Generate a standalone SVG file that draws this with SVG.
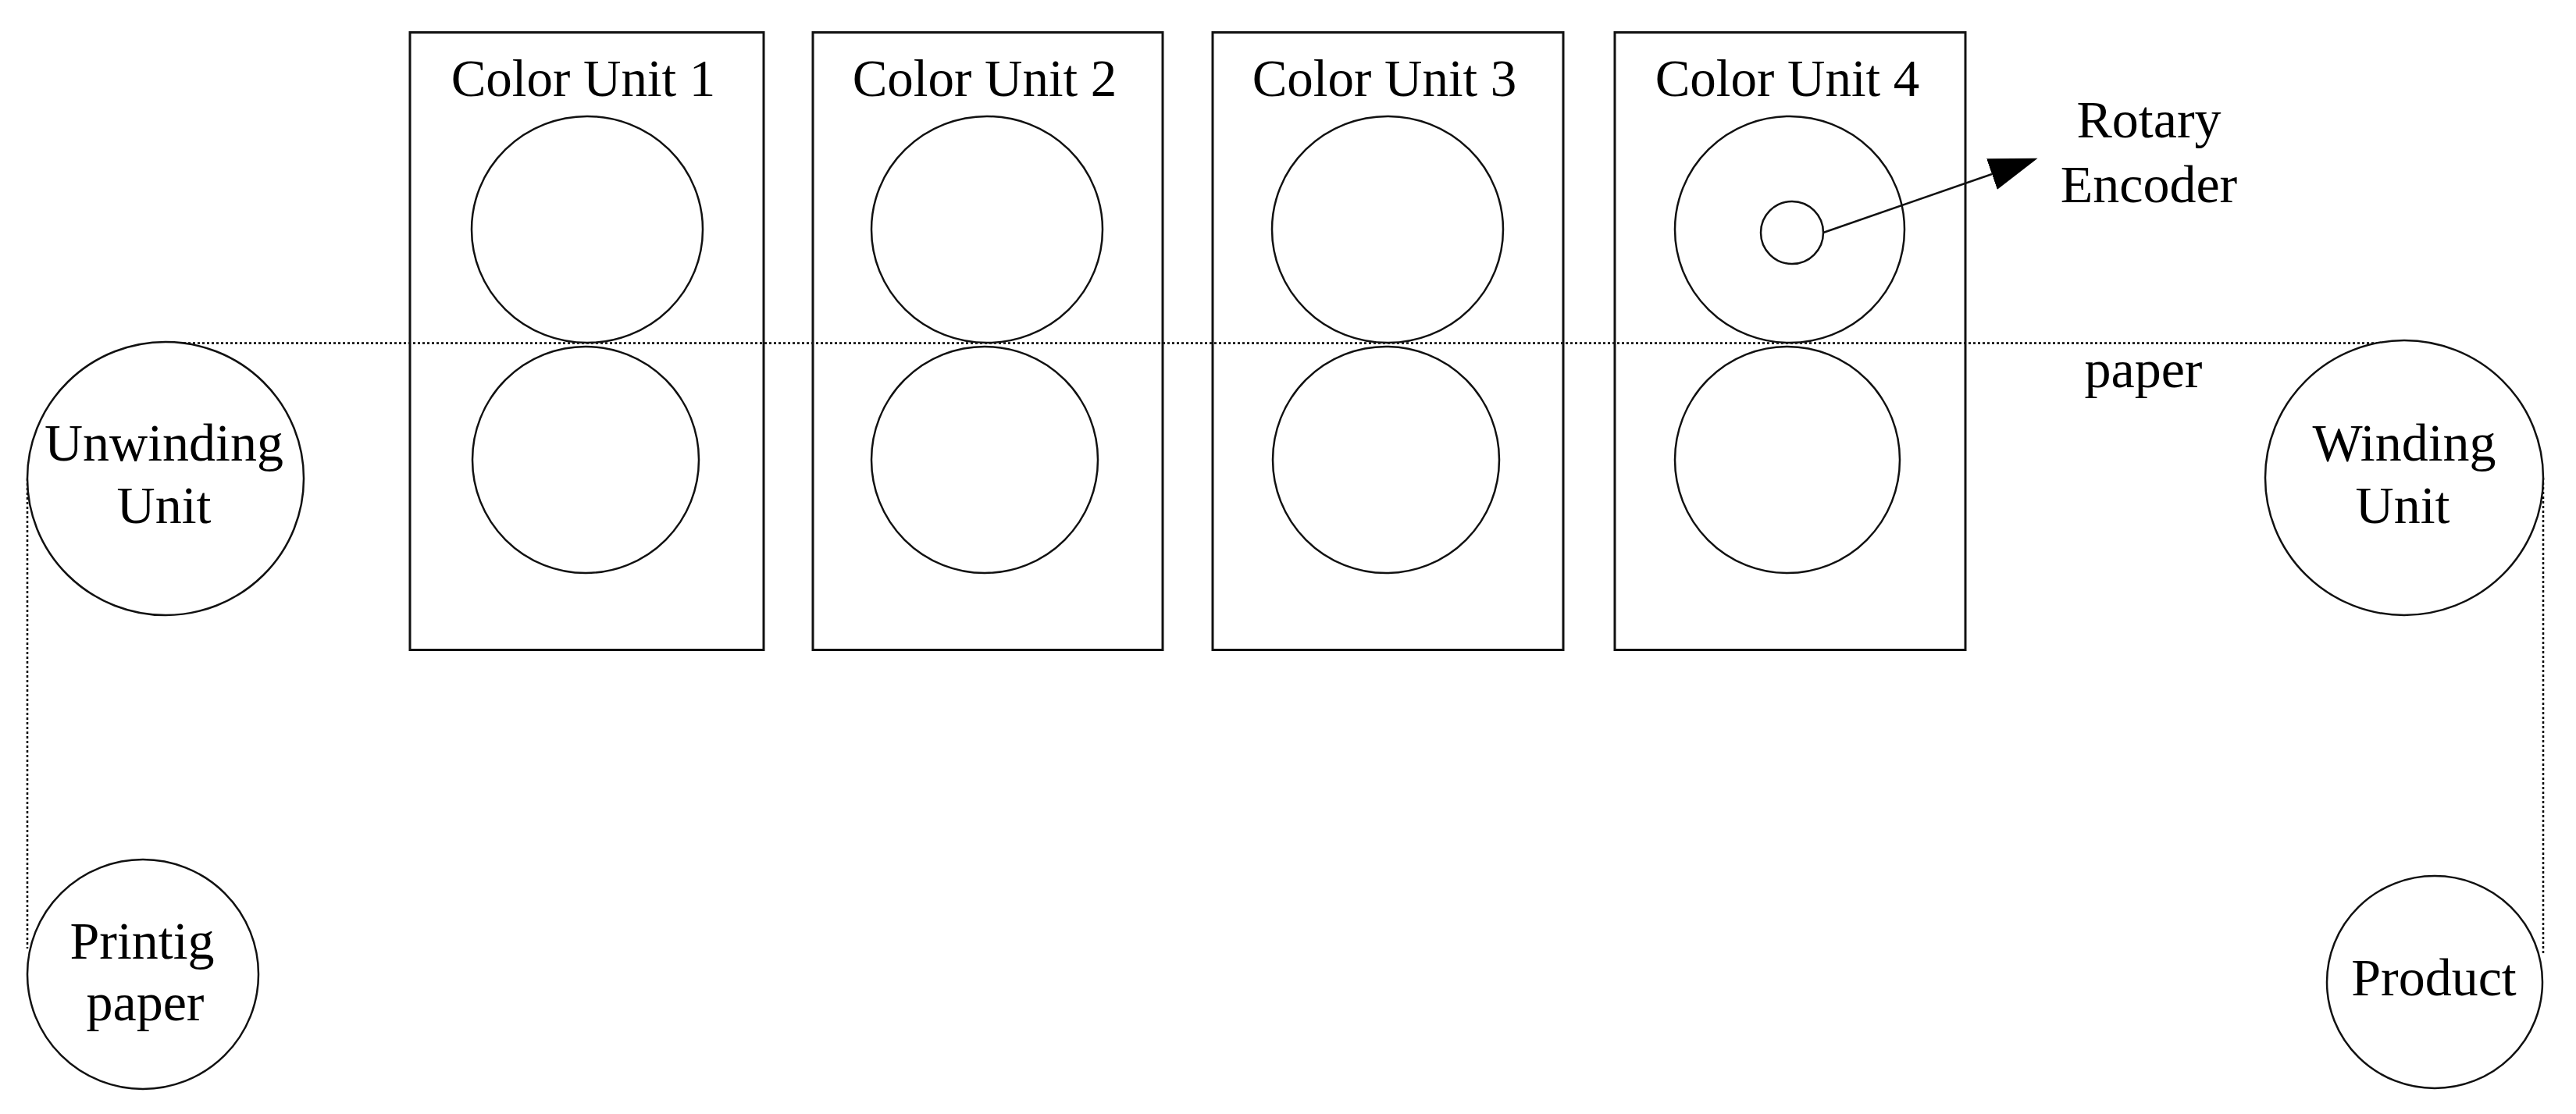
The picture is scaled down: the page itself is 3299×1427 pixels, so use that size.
<svg xmlns="http://www.w3.org/2000/svg" width="3299" height="1427" viewBox="0 0 3299 1427">
<style>
.bg{fill:#fff}
.box{fill:none;stroke:#111;stroke-width:3}
.roll{fill:none;stroke:#111;stroke-width:2.5}
.node{fill:#fff;stroke:#111;stroke-width:2.5}
.web{fill:none;stroke:#000;stroke-width:2.5;stroke-dasharray:3 3}
.arrow{fill:none;stroke:#111;stroke-width:2.5}
text{font-family:"Liberation Serif","Times New Roman",serif;font-size:68px;fill:#000;text-anchor:middle}
.title{font-size:67px}
</style>
<defs>
<marker id="ah" markerUnits="userSpaceOnUse" viewBox="0 0 62 42" refX="0" refY="21" markerWidth="62" markerHeight="42" orient="auto">
<path d="M0,0 L62,21 L0,42 Z" fill="#000"/>
</marker>
</defs>
<rect class="bg" x="0" y="0" width="3299" height="1427"/>

<g id="connectors">
<line class="web" x1="211" y1="439.5" x2="3079" y2="439.5"/>
<line class="web" x1="35" y1="613" x2="35" y2="1215"/>
<line class="web" x1="3257" y1="612" x2="3257" y2="1222"/>
<line class="arrow" x1="2335" y1="298" x2="2551" y2="223" marker-end="url(#ah)"/>
</g>

<g id="color-unit-1">
<rect class="box" x="525" y="41.5" width="453" height="791"/>
<text class="title" x="747" y="123">Color Unit 1</text>
<ellipse class="roll" cx="752" cy="294" rx="148" ry="145"/>
<ellipse class="roll" cx="750" cy="589" rx="145" ry="145"/>
</g>

<g id="color-unit-2">
<rect class="box" x="1041" y="41.5" width="448" height="791"/>
<text class="title" x="1261" y="123">Color Unit 2</text>
<ellipse class="roll" cx="1264" cy="294" rx="148" ry="145"/>
<ellipse class="roll" cx="1261" cy="589" rx="145" ry="145"/>
</g>

<g id="color-unit-3">
<rect class="box" x="1553" y="41.5" width="449" height="791"/>
<text class="title" x="1773" y="123">Color Unit 3</text>
<ellipse class="roll" cx="1777" cy="294" rx="148" ry="145"/>
<ellipse class="roll" cx="1775" cy="589" rx="145" ry="145"/>
</g>

<g id="color-unit-4">
<rect class="box" x="2068" y="41.5" width="449" height="791"/>
<text class="title" x="2289" y="123">Color Unit 4</text>
<ellipse class="roll" cx="2292" cy="294" rx="147" ry="145"/>
<ellipse class="roll" cx="2289" cy="589" rx="144" ry="145"/>
<circle class="roll" cx="2295" cy="298" r="40"/>
</g>

<g id="rotary-encoder-label">
<text x="2752" y="176">Rotary</text>
<text x="2752" y="259">Encoder</text>
</g>

<g id="paper-label">
<text x="2745" y="496">paper</text>
</g>

<g id="unwinding-unit">
<ellipse class="node" cx="212" cy="613" rx="177" ry="175"/>
<text x="210" y="590">Unwinding</text>
<text x="210" y="670">Unit</text>
</g>

<g id="winding-unit">
<ellipse class="node" cx="3079" cy="612" rx="178" ry="176"/>
<text x="3079" y="590">Winding</text>
<text x="3077" y="670">Unit</text>
</g>

<g id="printing-paper">
<ellipse class="node" cx="183" cy="1248" rx="148" ry="147"/>
<text x="182" y="1228">Printig</text>
<text x="186" y="1307">paper</text>
</g>

<g id="product">
<ellipse class="node" cx="3118" cy="1258" rx="138" ry="136"/>
<text x="3117" y="1275">Product</text>
</g>
</svg>
